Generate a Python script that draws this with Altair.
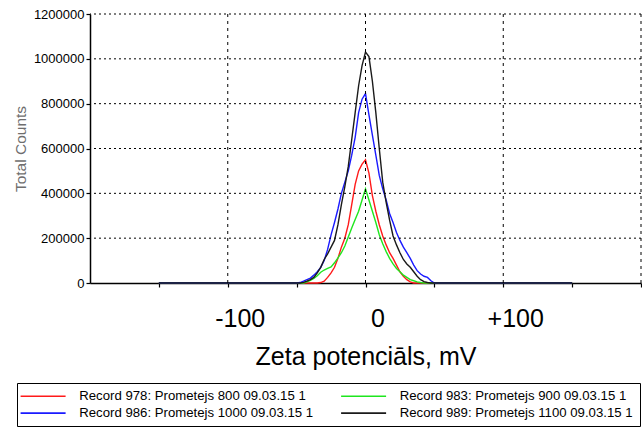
import altair as alt
import pandas as pd

# x positions (mV) shared by every record
mv = [-150,
      -50, -47.5, -45, -42.5, -40, -37.5, -35, -32.5, -30, -27.5,
      -25, -22.5, -20, -17.5, -15, -12.5, -10, -7.5, -5, -2.5,
      0,
      2.5, 5, 7.5, 10, 12.5, 15, 17.5, 20, 22.5, 25,
      27.5, 30, 32.5, 35, 37.5, 40, 42.5, 45, 47.5, 50,
      150]

names = [
    "Record 978: Prometejs 800 09.03.15 1",
    "Record 983: Prometejs 900 09.03.15 1",
    "Record 986: Prometejs 1000 09.03.15 1",
    "Record 989: Prometejs 1100 09.03.15 1",
]
colors = ["#ff1a1a", "#1ee61e", "#1a1aff", "#1a1a1a"]
# legend fills column by column: 978, 986 | 983, 989
legend_order = [names[0], names[2], names[1], names[3]]
legend_colors = [colors[0], colors[2], colors[1], colors[3]]

red_counts = [0,
              0, 0, 0, 0, 0, 0, 0, 2000, 8000, 25000,
              45000, 70000, 110000, 160000, 200000, 260000, 350000, 440000, 500000, 530000,
              550000,
              490000, 390000, 320000, 260000, 210000, 170000, 135000, 110000, 80000, 50000,
              30000, 15000, 5000, 0, 0, 0, 0, 0, 0, 0,
              0]
green_counts = [0,
                0, 0, 0, 5000, 12000, 20000, 32000, 48000, 58000, 65000,
                72000, 90000, 112000, 135000, 165000, 205000, 245000, 283000, 320000, 370000,
                420000,
                370000, 320000, 270000, 215000, 175000, 140000, 110000, 85000, 65000, 50000,
                35000, 25000, 15000, 10000, 5000, 2000, 0, 0, 0, 0,
                0]
blue_counts = [0,
               0, 2000, 8000, 15000, 22000, 35000, 50000, 70000, 100000, 150000,
               215000, 270000, 330000, 400000, 450000, 500000, 570000, 650000, 760000, 820000,
               845000,
               750000, 660000, 570000, 480000, 420000, 370000, 310000, 270000, 225000, 190000,
               160000, 135000, 110000, 80000, 55000, 40000, 30000, 25000, 10000, 0,
               0]
black_counts = [0,
                0, 0, 3000, 8000, 15000, 25000, 45000, 70000, 105000, 130000,
                160000, 190000, 260000, 350000, 430000, 520000, 640000, 760000, 880000, 970000,
                1030000,
                1010000, 900000, 760000, 600000, 450000, 360000, 280000, 210000, 170000, 135000,
                105000, 85000, 70000, 50000, 30000, 15000, 6000, 2000, 0, 0,
                0]

grid_y = [200000, 400000, 600000, 800000, 1000000, 1200000]
grid_x = [-100, 0, 100, 200]
x_ticks = [-150, -100, -50, 0, 50, 100, 150, 200]
y_ticks = [0, 100000, 200000, 300000, 400000, 500000, 600000, 700000,
           800000, 900000, 1000000, 1100000, 1200000]

rows = []
for name, vals in zip(names, [red_counts, green_counts, blue_counts, black_counts]):
    for x, v in zip(mv, vals):
        rows.append({"series": name, "mv": x, "counts": v})
df = pd.DataFrame(rows)

xscale = alt.Scale(domain=[-200, 200], nice=False, zero=False)
yscale = alt.Scale(domain=[0, 1200000], nice=False)

FONT = "Liberation Sans, Arial, sans-serif"

lines = alt.Chart(df).mark_line(strokeWidth=1.4).encode(
    x=alt.X("mv:Q", scale=xscale, axis=alt.Axis(
        values=x_ticks,
        labelExpr="datum.value == -100 ? '-100' : datum.value == 0 ? '0' : datum.value == 100 ? '+100' : ''",
        labelFont=FONT, labelFontSize=25, labelColor="black",
        labelOffset=12, labelPadding=19, labelOverlap=False, labelFlush=False,
        tickSize=4, tickColor="black", tickWidth=1.2,
        domainColor="black", domainWidth=1.5, grid=False,
        title="Zeta potenciāls, mV", titleFont=FONT, titleFontSize=25,
        titleFontWeight="normal", titleColor="black", titlePadding=13,
    )),
    y=alt.Y("counts:Q", scale=yscale, axis=alt.Axis(
        values=y_ticks,
        labelExpr="datum.value % 200000 == 0 ? '' + datum.value : ''",
        labelFont=FONT, labelFontSize=13, labelColor="black",
        labelOverlap=False, labelPadding=2,
        tickSize=4, tickColor="black", tickWidth=1.2,
        domainColor="black", domainWidth=1.5, grid=False,
        title="Total Counts", titleFont=FONT, titleFontSize=15.5,
        titleFontWeight="normal", titleColor="#6e6e6e", titlePadding=5,
    )),
    color=alt.Color("series:N", scale=alt.Scale(domain=legend_order, range=legend_colors),
                    legend=alt.Legend(
                        orient="none", legendX=-73, legendY=369,
                        columns=2, title=None,
                        labelFont=FONT, labelFontSize=13.2, labelColor="black",
                        labelLimit=400, labelOffset=42.5,
                        symbolType="M-1.9,0H7.1", symbolSize=100, symbolStrokeWidth=1.6,
                        strokeColor="black", padding=6.5,
                        columnPadding=23.5, rowPadding=3,
                    )),
    order=alt.Order("mv:Q"),
)

hgrid = alt.Chart(pd.DataFrame({"counts": grid_y})).mark_rule(
    color="black", strokeWidth=1, strokeDash=[2, 3]
).encode(y=alt.Y("counts:Q", scale=yscale))

vgrid = alt.Chart(pd.DataFrame({"mv": grid_x})).mark_rule(
    color="black", strokeWidth=1, strokeDash=[3, 4]
).encode(x=alt.X("mv:Q", scale=xscale))

chart = alt.layer(lines, hgrid, vgrid).properties(
    width=551, height=269,
    autosize=alt.AutoSizeParams(type="none"),
    padding={"left": 90, "top": 14, "right": 1, "bottom": 144},
).configure_view(stroke=None)

chart.save("out.html", embed_options={"renderer": "svg", "actions": False})
